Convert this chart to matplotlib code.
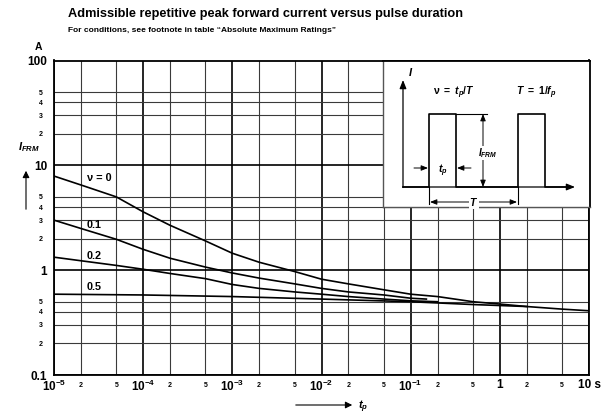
import matplotlib
matplotlib.use("Agg")
import matplotlib.pyplot as plt
import numpy as np

plt.rcParams['font.family'] = ['Liberation Sans', 'DejaVu Sans']
plt.rcParams['font.weight'] = 'bold'
plt.rcParams['mathtext.fontset'] = 'custom'
plt.rcParams['mathtext.rm'] = 'Liberation Sans:bold'
plt.rcParams['mathtext.bf'] = 'Liberation Sans:bold'
plt.rcParams['mathtext.it'] = 'Liberation Sans:italic:bold'
plt.rcParams['mathtext.sf'] = 'Liberation Sans:bold'

# ---- data ----
tp_v0 = [1e-5, 2e-5, 5e-5, 1e-4, 2e-4, 5e-4, 1e-3, 2e-3, 5e-3, 1e-2, 2e-2, 5e-2, 0.1, 0.2, 0.5, 1, 2, 5, 10]
i_v0 = [7.9, 6.5, 5.0, 3.6, 2.68, 1.9, 1.45, 1.19, 0.97, 0.82, 0.74, 0.65, 0.59, 0.56, 0.50, 0.475, 0.45, 0.425, 0.41]

tp_v01 = [1e-5, 2e-5, 5e-5, 1e-4, 2e-4, 5e-4, 1e-3, 2e-3, 5e-3, 1e-2, 2e-2, 5e-2, 0.1, 0.15]
i_v01 = [3.0, 2.5, 1.97, 1.58, 1.3, 1.07, 0.94, 0.84, 0.74, 0.67, 0.62, 0.58, 0.54, 0.53]

tp_v02 = [1e-5, 2e-5, 5e-5, 1e-4, 2e-4, 5e-4, 1e-3, 2e-3, 5e-3, 1e-2, 2e-2, 5e-2, 0.1, 0.2]
i_v02 = [1.33, 1.23, 1.11, 1.02, 0.93, 0.83, 0.73, 0.67, 0.62, 0.59, 0.56, 0.53, 0.51, 0.50]

tp_v05 = [1e-5, 1e-4, 1e-3, 1e-2, 0.1, 0.5, 1, 2]
i_v05 = [0.59, 0.58, 0.56, 0.53, 0.50, 0.47, 0.46, 0.45]

curve_labels = ["ν = 0", "0.1", "0.2", "0.5"]

x_major = [1e-5, 1e-4, 1e-3, 1e-2, 1e-1, 1, 10]
x_major_labels = [r'$10^{-5}$', r'$10^{-4}$', r'$10^{-3}$', r'$10^{-2}$', r'$10^{-1}$', '1', '10 s']
x_minor_mult = [2, 5]
y_major = [0.1, 1, 10, 100]
y_major_labels = ['0.1', '1', '10', '100']
y_minor_mult = [2, 3, 4, 5]

title = "Admissible repetitive peak forward current versus pulse duration"
subtitle = "For conditions, see footnote in table \u201cAbsolute Maximum Ratings\u201d"

# ---- figure ----
W, H = 608, 418
fig = plt.figure(figsize=(W / 100, H / 100), dpi=100)


def fx(px):
    return px / W


def fy(py):
    return 1 - py / H


L, R, T, B = 54, 589, 60.5, 375
ax = fig.add_axes([fx(L), fy(B), fx(R) - fx(L), fy(T) - fy(B)])
ax.set_xscale('log')
ax.set_yscale('log')
ax.set_xlim(1e-5, 10)
ax.set_ylim(0.1, 100)

x_minor = [m * d for d in x_major[:-1] for m in x_minor_mult]
y_minor = [m * d for d in y_major[:-1] for m in y_minor_mult]
ax.set_xticks(x_major, x_major_labels)
ax.set_xticks(x_minor, [str(m) for d in x_major[:-1] for m in x_minor_mult], minor=True)
ax.set_yticks(y_major, y_major_labels)
ax.set_yticks(y_minor, [str(m) for d in y_major[:-1] for m in y_minor_mult], minor=True)

ax.tick_params(axis='both', which='both', length=0)
ax.tick_params(axis='x', which='major', labelsize=8.5, pad=3)
ax.tick_params(axis='x', which='minor', labelsize=5, pad=5)
ax.tick_params(axis='y', which='major', labelsize=8.5, pad=5)
ax.tick_params(axis='y', which='minor', labelsize=5, pad=8)
for lab in ax.get_xticklabels(which='both') + ax.get_yticklabels(which='both'):
    lab.set_fontweight('bold')

ax.grid(which='major', color='black', lw=1.2)
ax.grid(which='minor', color='#3a3a3a', lw=0.8)
for s in ax.spines.values():
    s.set_linewidth(1.3)
    s.set_color('black')

for tp, i in [(tp_v0, i_v0), (tp_v01, i_v01), (tp_v02, i_v02), (tp_v05, i_v05)]:
    ax.plot(tp, i, color='black', lw=1.2, zorder=3)

# curve labels
lab_pos = [(87, 178), (87, 225), (87, 256), (87, 287)]
for txt, (px, py) in zip(curve_labels, lab_pos):
    fig.text(fx(px), fy(py), txt, fontsize=7.8, fontweight='bold', ha='left', va='center')

# titles
fig.text(fx(68), fy(14), title, fontsize=9.2, fontweight='bold', ha='left', va='center')
fig.text(fx(68), fy(31), subtitle, fontsize=6.0, fontweight='bold', ha='left', va='center')

# axis labels
fig.text(fx(38), fy(47), 'A', fontsize=7.5, fontweight='bold', ha='center', va='center')
fig.text(fx(29), fy(147), r'$I_{FRM}$', fontsize=8, ha='center', va='center')
fig.patches.append(matplotlib.patches.FancyArrowPatch(
    (fx(26), fy(212)), (fx(26), fy(168)), transform=fig.transFigure,
    arrowstyle='-|>,head_length=4,head_width=2', lw=0.8, color='black'))
fig.patches.append(matplotlib.patches.FancyArrowPatch(
    (fx(293), fy(405)), (fx(355), fy(405)), transform=fig.transFigure,
    arrowstyle='-|>,head_length=4,head_width=2', lw=0.8, color='black'))
fig.text(fx(358), fy(407), r'$t_p$', fontsize=8, ha='left', va='center')

# ---- inset sketch (pixel coordinate frame) ----
IL, IR, IT, IB = 383, 589.5, 60.5, 207
ins = fig.add_axes([fx(IL), fy(IB), fx(IR) - fx(IL), fy(IT) - fy(IB)], zorder=5)
ins.set_xlim(IL, IR)
ins.set_ylim(IB, IT)
ins.set_xticks([])
ins.set_yticks([])
ins.set_facecolor('white')
for k, s in ins.spines.items():
    if k in ('left', 'bottom'):
        s.set_color('#555555')
        s.set_linewidth(1.0)
    else:
        s.set_color('black')
        s.set_linewidth(1.3)

aprops = dict(arrowstyle='-|>,head_length=5,head_width=2', lw=0.9, color='black',
              shrinkA=0, shrinkB=0, mutation_scale=1)
ins.annotate('', xy=(403, 80), xytext=(403, 187.5), arrowprops=aprops)
ins.annotate('', xy=(575, 187), xytext=(403, 187), arrowprops=aprops)
wx = [403, 429, 429, 456, 456, 518, 518, 545, 545, 570]
wy = [187, 187, 114, 114, 187, 187, 114, 114, 187, 187]
ins.plot(wx, wy, color='black', lw=1.2)
ins.plot([456, 487], [114, 114], color='black', lw=0.8)
ins.plot([429, 429], [187, 204], color='black', lw=0.8)
ins.plot([518, 518], [187, 204], color='black', lw=0.8)

dprops = dict(arrowstyle='<|-|>,head_length=4,head_width=1.6', lw=0.7, color='black',
              shrinkA=0, shrinkB=0, mutation_scale=1)
ins.annotate('', xy=(483, 114), xytext=(483, 187), arrowprops=dprops)
ins.annotate('', xy=(430, 202), xytext=(517, 202), arrowprops=dprops)
sprops = dict(arrowstyle='-|>,head_length=4,head_width=1.6', lw=0.7, color='black',
              shrinkA=0, shrinkB=0, mutation_scale=1)
ins.annotate('', xy=(428, 168), xytext=(414, 168), arrowprops=sprops)
ins.annotate('', xy=(457, 168), xytext=(471, 168), arrowprops=sprops)

ins.text(488, 153, r'$I_{FRM}$', fontsize=7, ha='center', va='center',
         bbox=dict(facecolor='white', edgecolor='none', pad=0.3))
ins.text(474, 202, r'$T$', fontsize=7.5, ha='center', va='center',
         bbox=dict(facecolor='white', edgecolor='none', pad=0.5))
ins.text(443, 171, r'$t_p$', fontsize=7.5, ha='center', va='center')
ins.text(411, 72, r'$I$', fontsize=8, ha='center', va='center')
ins.text(454, 93, r'$\mathrm{\nu\ =\ }t_p/T$', fontsize=7.5, ha='center', va='center')
ins.text(536, 93, r'$T\mathrm{\ =\ 1/}f_p$', fontsize=7.5, ha='center', va='center')

fig.savefig('out.png', dpi=100)
